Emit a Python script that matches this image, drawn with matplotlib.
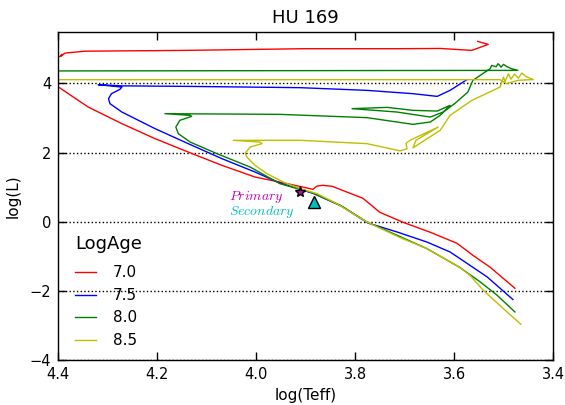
import matplotlib
matplotlib.use("Agg")
import matplotlib.pyplot as plt

# ---------------- data (log Teff, log L) ----------------
ages = ["7.0", "7.5", "8.0", "8.5"]
colors = [(1, 0, 0), (0, 0, 1), (0, 0.5, 0), (0.75, 0.75, 0)]

teff_70 = [3.477, 3.527, 3.562, 3.594, 3.648, 3.703, 3.750, 3.784, 3.846, 3.865,
           3.877, 3.885, 3.940, 4.002, 4.069, 4.137, 4.204, 4.271, 4.339, 4.399,
           4.45, 4.45, 4.41, 4.397, 4.392, 4.395, 4.386, 4.345, 4.143, 3.901,
           3.709, 3.628, 3.564, 3.531, 3.552]
logL_70 = [-1.925, -1.318, -0.971, -0.624, -0.306, -0.017, 0.272, 0.676, 1.023, 1.052,
           1.030, 0.936, 1.110, 1.292, 1.630, 2.014, 2.402, 2.835, 3.315, 3.893,
           4.05, 4.80, 4.80, 4.77, 4.84, 4.78, 4.876, 4.931, 4.954, 5.003,
           5.003, 5.010, 4.954, 5.127, 5.214]

teff_75 = [3.481, 3.533, 3.574, 3.608, 3.655, 3.715, 3.774, 3.830, 3.885, 3.952,
           4.002, 4.069, 4.137, 4.204, 4.271, 4.295, 4.298, 4.292, 4.275, 4.271,
           4.319, 4.271, 4.137, 3.911, 3.776, 3.683, 3.634, 3.608, 3.574]
logL_75 = [-2.251, -1.598, -1.202, -0.876, -0.587, -0.298, -0.038, 0.474, 0.821, 1.119,
           1.436, 1.824, 2.257, 2.691, 3.171, 3.413, 3.558, 3.702, 3.827, 3.893,
           3.962, 3.928, 3.913, 3.876, 3.798, 3.702, 3.624, 3.798, 4.107]

teff_80 = [3.477, 3.513, 3.547, 3.588, 3.655, 3.715, 3.776, 3.824, 3.885, 3.952,
           4.012, 4.079, 4.133, 4.157, 4.162, 4.154, 4.130, 4.133, 4.184, 3.952,
           3.776, 3.715, 3.683, 3.648, 3.628, 3.608, 3.634, 3.683, 3.735, 3.806,
           3.715, 3.648, 3.622, 3.598, 3.572, 3.562, 3.527, 3.524, 3.515, 3.511,
           3.505, 3.500, 3.494, 3.485, 3.471, 4.40, 4.45]
logL_80 = [-2.610, -2.127, -1.743, -1.327, -0.777, -0.393, -0.009, 0.425, 0.830, 1.101,
           1.581, 1.968, 2.303, 2.546, 2.737, 2.931, 3.046, 3.075, 3.124, 3.104,
           3.009, 2.882, 2.815, 2.882, 3.075, 3.364, 3.199, 3.220, 3.306, 3.269,
           3.171, 3.026, 3.171, 3.422, 3.749, 4.087, 4.425, 4.520, 4.480, 4.570,
           4.470, 4.550, 4.490, 4.430, 4.376, 4.360, 4.360]

teff_85 = [3.465, 3.493, 3.541, 3.568, 3.588, 3.655, 3.709, 3.776, 3.837, 3.877,
           3.911, 3.945, 3.978, 4.002, 4.018, 4.022, 4.012, 3.988, 3.992, 4.046,
           3.911, 3.776, 3.709, 3.695, 3.697, 3.689, 3.632, 3.677, 3.683, 3.628,
           3.608, 3.564, 3.507, 3.500, 3.497, 3.490, 3.485, 3.478, 3.470, 3.463,
           3.455, 3.440, 3.470, 3.494, 3.507, 4.40, 4.45]
logL_85 = [-2.965, -2.610, -1.983, -1.549, -1.327, -0.777, -0.460, -0.009, 0.523, 0.812,
           0.957, 1.147, 1.390, 1.630, 1.861, 1.977, 2.159, 2.257, 2.303, 2.353,
           2.353, 2.257, 2.049, 2.107, 2.266, 2.353, 2.737, 2.353, 2.136, 2.642,
           3.075, 3.509, 3.893, 4.180, 4.050, 4.280, 4.120, 4.270, 4.150, 4.300,
           4.200, 4.110, 4.090, 3.991, 4.107, 4.107, 4.107]

star_names = ["Primary", "Secondary"]
star_teff = [3.911, 3.883]
star_logL = [0.858, 0.569]

title = "HU 169"
xlabel = "log(Teff)"
ylabel = "log(L)"

# ---------------- figure ----------------
plt.rcParams["mathtext.fontset"] = "cm"
plt.rcParams["font.family"] = ["DejaVu Sans"]

fig = plt.figure(figsize=(5.65, 4.05), dpi=100, facecolor="white")
ax = fig.add_axes([0.1027, 0.1111, 0.8761, 0.8111])

tracks = [(teff_70, logL_70), (teff_75, logL_75), (teff_80, logL_80), (teff_85, logL_85)]
for (t, l), age, c in zip(tracks, ages, colors):
    ax.plot(t, l, color=c, lw=1.0, label=age)

ax.plot(star_teff[0], star_logL[0], marker="*", ms=8, mfc="m", mec="k", mew=1, ls="none")
ax.plot(star_teff[1], star_logL[1], marker="^", ms=8, mfc="c", mec="k", mew=1, ls="none")

ax.text(4.055, 0.63, "$" + star_names[0] + "$", color="m", fontsize=10, ha="left", va="baseline")
ax.text(4.055, 0.19, "$" + star_names[1] + "$", color="c", fontsize=10, ha="left", va="baseline")

ax.set_xlim(4.4, 3.4)
ax.set_ylim(-4, 5.5)
ax.set_xticks([4.4, 4.2, 4.0, 3.8, 3.6, 3.4])
ax.set_yticks([-4, -2, 0, 2, 4])
ax.yaxis.grid(True, color="k", linestyle=":", linewidth=1.0)
ax.tick_params(direction="in", top=True, right=True, length=6, width=1, labelsize=10.5, pad=5)
for s in ax.spines.values():
    s.set_linewidth(1.0)

ax.set_title(title, fontsize=13)
ax.set_xlabel(xlabel, fontsize=11)
ax.set_ylabel(ylabel, fontsize=11, labelpad=6)

leg = ax.legend(loc="lower left", bbox_to_anchor=(0.0, -0.015), frameon=False,
                title="LogAge", fontsize=11, title_fontsize=13, handlelength=1.4,
                handletextpad=1.1, labelspacing=0.5, borderaxespad=0.7)
leg._legend_box.align = "left"
leg._legend_box.sep = 9

fig.savefig("out.png", dpi=100, facecolor="white")
